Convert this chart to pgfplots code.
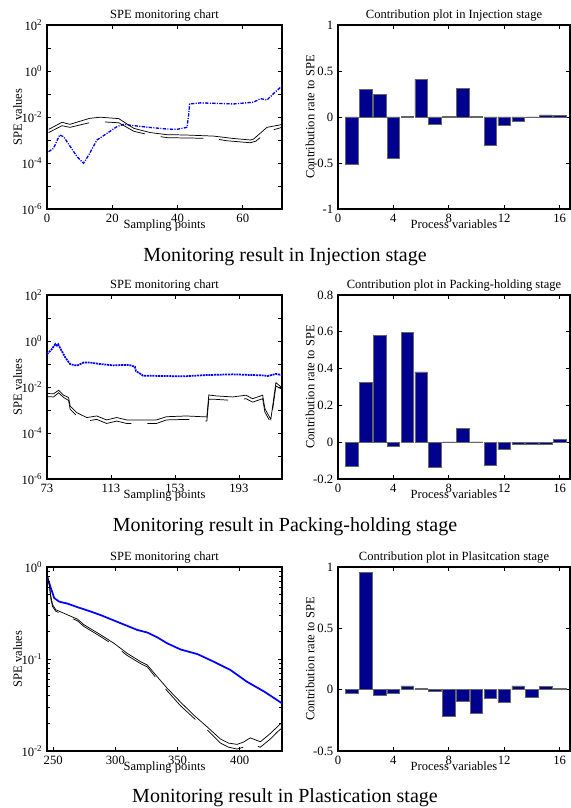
\documentclass[border=0pt]{standalone}
\usepackage{fontspec}
\setmainfont{Liberation Serif}
\usepackage{pgfplots}
\pgfplotsset{compat=1.18}
\definecolor{barblue}{RGB}{0,0,143}
\definecolor{speblue}{RGB}{0,0,255}

\newcommand{\tlfont}{\fontsize{9.5}{11}\selectfont}
\newcommand{\lbfont}{\fontsize{9.4}{11}\selectfont}

\pgfplotsset{
  every axis title shift=0pt,
  myBase/.style={
    scale only axis,
    axis line style={line width=0.9pt},
    tick style={black, line width=0.5pt},
    major tick length=3pt, minor tick length=2pt,
    tick align=inside,
    ticklabel style={font=\tlfont},
    every axis title/.style={at={(0.5,1)}, anchor=base, yshift=4.8pt, font=\lbfont},
  },
  mySpe/.style={myBase, width=176.25pt, height=138pt,
    ylabel={SPE values}, xlabel={Sampling points},
    ylabel style={at={(axis description cs:-0.125,0.5)}, anchor=center, font=\lbfont},
    xlabel style={at={(axis description cs:0.5,-0.106)}, anchor=base, font=\lbfont},
  },
  myContrib/.style={myBase, width=174pt, height=138pt, bar width=0.9,
    xmin=0, xmax=16.75, xtick={0,4,8,12,16}, xticklabels={0,4,8,12,16},
    ylabel={Contribution rate to SPE}, xlabel={Process variables},
    ylabel style={at={(axis description cs:-0.12,0.5)}, anchor=center, font=\lbfont},
    xlabel style={at={(axis description cs:0.5,-0.105)}, anchor=base, inner sep=0pt, font=\lbfont},
  },
  myBars/.style={ybar, fill=barblue, draw=black!60, line width=0.4pt},
  mySpeLine/.style={color=speblue, line width=1pt},
  myLimA/.style={color=black, line width=0.55pt},
  myLimB/.style={color=black, line width=0.55pt, dash pattern=on 32pt off 12pt},
}

\begin{document}
\begin{tikzpicture}
\path[use as bounding box] (0pt,0pt) rectangle (428.25pt,606pt);

% ---------- Row 1 left: Injection SPE ----------
\begin{axis}[ymode=log, mySpe, at={(35.25pt,449.25pt)}, anchor=south west,
  title={SPE monitoring chart},
  xmin=0, xmax=72, xtick={0,20,40,60}, xticklabels={0,20,40,60},
  ymin=1e-6, ymax=1e2, yminorticks=false,
  ytick={1e-6,1e-5,1e-4,1e-3,1e-2,1e-1,1,1e1,1e2},
  yticklabels={10\textsuperscript{-6},,10\textsuperscript{-4},,10\textsuperscript{-2},,10\textsuperscript{0},,10\textsuperscript{2}}]
\addplot[mySpeLine, dash pattern=on 2.5pt off 1pt on 0.8pt off 1pt] coordinates {
(0.5,3.1e-4) (2,4.4e-4) (3.9,1.66e-3) (5.1,1.38e-3) (6.1,8.5e-4) (9.2,1.9e-4)
(11.2,9.8e-5) (12.8,2.24e-4) (15.3,1.0e-3) (18.4,1.95e-3) (21.4,3.8e-3) (23.5,4.8e-3)
(26.6,4.2e-3) (31.7,3.5e-3) (36.8,3.0e-3) (39.8,2.9e-3) (42.9,3.55e-3) (43.4,1.23e-2)
(43.7,3.7e-2) (47,4.1e-2) (52.1,3.9e-2) (57.2,3.7e-2) (63.3,4.4e-2) (65.4,6.3e-2)
(67.4,5.5e-2) (69.5,0.107) (72,0.224)};
\addplot[myLimA] coordinates {
(0.5,2.9e-3) (4.6,5.9e-3) (7,4.8e-3) (13,8.7e-3) (16.3,9.8e-3) (22,8.5e-3)
(26.6,3.2e-3) (31.7,2.1e-3) (36.8,1.7e-3) (41.9,1.66e-3) (51,1.48e-3) (57,1.17e-3)
(62.3,1.0e-3) (63.3,1.1e-3) (67.4,3.55e-3) (72,4.7e-3)};
\addplot[myLimB] coordinates {
(0.5,2.1e-3) (4.6,4.2e-3) (7,3.55e-3) (13.8,6.0e-3) (18.4,6.0e-3) (22,5.6e-3)
(26.6,2.4e-3) (32,1.58e-3) (37,1.26e-3) (51,1.17e-3) (55,9.3e-4) (62.3,7.6e-4)
(64,8.9e-4) (67.4,2.3e-3) (72,3.55e-3)};
\end{axis}

% ---------- Row 1 right: Injection contribution ----------
\begin{axis}[myContrib, at={(253.5pt,449.25pt)}, anchor=south west,
  title={Contribution plot in Injection stage},
  ymin=-1, ymax=1, ytick={-1,-0.5,0,0.5,1}, yticklabels={-1,-0.5,0,0.5,1}]
\addplot[myBars] coordinates {
(1,-0.517) (2,0.304) (3,0.242) (4,-0.452) (5,0.005) (6,0.412) (7,-0.083) (8,0.005)
(9,0.315) (10,0.005) (11,-0.311) (12,-0.094) (13,-0.047) (14,-0.008) (15,0.022) (16,0.018)};
\end{axis}

\node[anchor=base, font=\fontsize{15}{18}\selectfont] at (213.75pt,409.5pt) {Monitoring result in Injection stage};

% ---------- Row 2 left: Packing-holding SPE ----------
\begin{axis}[ymode=log, mySpe, at={(35.25pt,246.75pt)}, anchor=south west,
  title={SPE monitoring chart},
  xmin=73, xmax=220, xtick={73,113,153,193}, xticklabels={73,113,153,193},
  ymin=1e-6, ymax=1e2, yminorticks=false,
  ytick={1e-6,1e-5,1e-4,1e-3,1e-2,1e-1,1,1e1,1e2},
  yticklabels={10\textsuperscript{-6},,10\textsuperscript{-4},,10\textsuperscript{-2},,10\textsuperscript{0},,10\textsuperscript{2}}]
\addplot[mySpeLine, line width=1.3pt, dash pattern=on 1.5pt off 0.6pt] coordinates {
(73,0.27) (76,0.44) (78.2,0.74) (79.2,0.63) (80,0.72) (81.3,0.48) (84.4,0.195)
(87.5,0.098) (91.7,0.085) (95.8,0.115) (100,0.115) (106.2,0.1) (114.5,0.087)
(120.7,0.091) (124.9,0.089) (128,0.076) (128.6,0.05) (133.2,0.031) (147.7,0.030)
(158,0.029) (172.6,0.033) (189.2,0.0355) (207.9,0.032) (211,0.030) (216.2,0.037) (220,0.033)};
\addplot[myLimA] coordinates {
(73,5.2e-3) (77.1,5.1e-3) (80.3,7.2e-3) (83.4,4.4e-3) (86.5,3.5e-3) (87.5,1.48e-3)
(91.7,7.6e-4) (97.9,4.7e-4) (104.1,5.5e-4) (110.3,3.7e-4) (116.6,4.7e-4) (122.8,3.7e-4)
(131.1,3.7e-4) (141.5,3.7e-4) (147.7,5.1e-4) (160.1,5.5e-4) (173,5.0e-4) (174.2,4.5e-3)
(178.8,4.1e-3) (189.2,3.7e-3) (197.5,4.4e-3) (201.6,3.1e-3) (207.9,4.4e-3) (209.3,1.15e-3)
(213,3.9e-4) (216.2,1.55e-2) (220,9.3e-3)};
\addplot[myLimB] coordinates {
(73,3.8e-3) (77.1,3.7e-3) (80.3,5.6e-3) (83.4,3.5e-3) (86.5,2.6e-3) (87.5,1.07e-3)
(91.7,5.5e-4) (97.9,3.3e-4) (104.1,3.9e-4) (110.3,2.6e-4) (116.6,3.3e-4) (122.8,2.6e-4)
(131.1,2.6e-4) (141.5,2.6e-4) (147.7,3.7e-4) (160.1,3.9e-4) (173,3.3e-4) (174.2,2.9e-3)
(178.8,2.9e-3) (189.2,2.6e-3) (197.5,3.1e-3) (201.6,2.2e-3) (207.9,3.1e-3) (209.3,8.1e-4)
(213,2.8e-4) (216.2,1.1e-2) (220,7.9e-3)};
\end{axis}

% ---------- Row 2 right: Packing-holding contribution ----------
\begin{axis}[myContrib, at={(253.5pt,246.75pt)}, anchor=south west,
  title={Contribution plot in Packing-holding stage},
  ymin=-0.2, ymax=0.8, ytick={-0.2,0,0.2,0.4,0.6,0.8}, yticklabels={-0.2,0,0.2,0.4,0.6,0.8}]
\addplot[myBars] coordinates {
(1,-0.130) (2,0.324) (3,0.582) (4,-0.022) (5,0.595) (6,0.382) (7,-0.135) (8,0.002)
(9,0.074) (10,0.002) (11,-0.124) (12,-0.040) (13,-0.009) (14,-0.011) (15,-0.011) (16,0.014)};
\end{axis}

\node[anchor=base, font=\fontsize{15}{18}\selectfont] at (213.75pt,207pt) {Monitoring result in Packing-holding stage};

% ---------- Row 3 left: Plastication SPE ----------
\begin{axis}[ymode=log, mySpe, at={(35.25pt,42.75pt)}, anchor=south west,
  title={SPE monitoring chart},
  xmin=245, xmax=434, xtick={250,300,350,400}, xticklabels={250,300,350,400},
  ymin=1e-2, ymax=1,
  ytick={1e-2,1e-1,1}, yticklabels={10\textsuperscript{-2},10\textsuperscript{-1},10\textsuperscript{0}},
  minor ytick={0.02,0.03,0.04,0.05,0.06,0.07,0.08,0.09,0.2,0.3,0.4,0.5,0.6,0.7,0.8,0.9}]
\addplot[mySpeLine, line width=1.3pt] coordinates {
(244.9,0.78) (246.8,0.67) (248.1,0.59) (250.8,0.46) (254.8,0.42) (261.5,0.40)
(269.5,0.366) (280.2,0.328) (288.2,0.30) (298.9,0.262) (309.6,0.229) (317.6,0.207)
(325.7,0.194) (333.7,0.172) (341.7,0.148) (352.4,0.127) (366,0.113) (379.1,0.0935)
(392.5,0.076) (405.9,0.0565) (420,0.044) (434,0.033)};
\addplot[myLimA] coordinates {
(244.9,0.86) (246.8,0.67) (248.1,0.48) (249.5,0.39) (252.1,0.343) (261.5,0.302)
(269.5,0.271) (274.9,0.235) (288.2,0.183) (298.9,0.148) (309.6,0.115) (320.3,0.0935)
(325.7,0.086) (333.7,0.064) (341.7,0.048) (352.4,0.034) (363.1,0.0245) (373.8,0.0183)
(384.5,0.0135) (391,0.0122) (397.9,0.0118) (403,0.0125) (408.5,0.0139) (416.6,0.0126)
(424.6,0.0155) (434,0.0205)};
\addplot[myLimB] coordinates {
(244.9,0.86) (246.8,0.64) (248.1,0.45) (249.5,0.37) (252.1,0.33) (261.5,0.29)
(269.5,0.26) (274.9,0.225) (288.2,0.175) (298.9,0.141) (309.6,0.109) (320.3,0.089)
(325.7,0.082) (333.7,0.060) (341.7,0.045) (352.4,0.031) (363.1,0.0228) (373.8,0.0170)
(384.5,0.0122) (391,0.0110) (397.9,0.0105) (403,0.0110) (408.5,0.0120) (416.6,0.0110)
(424.6,0.0135) (430,0.016) (434,0.0178)};
\end{axis}

% ---------- Row 3 right: Plastication contribution ----------
\begin{axis}[myContrib, at={(253.5pt,42.75pt)}, anchor=south west,
  title={Contribution plot in Plasitcation stage},
  ymin=-0.5, ymax=1, ytick={-0.5,0,0.5,1}, yticklabels={-0.5,0,0.5,1}]
\addplot[myBars] coordinates {
(1,-0.033) (2,0.956) (3,-0.046) (4,-0.027) (5,0.030) (6,0.008) (7,-0.014) (8,-0.219)
(9,-0.096) (10,-0.189) (11,-0.068) (12,-0.101) (13,0.030) (14,-0.066) (15,0.025) (16,0.008)};
\end{axis}

\node[anchor=base, font=\fontsize{15}{18}\selectfont] at (213.75pt,4.5pt) {Monitoring result in Plastication stage};
\end{tikzpicture}
\end{document}
